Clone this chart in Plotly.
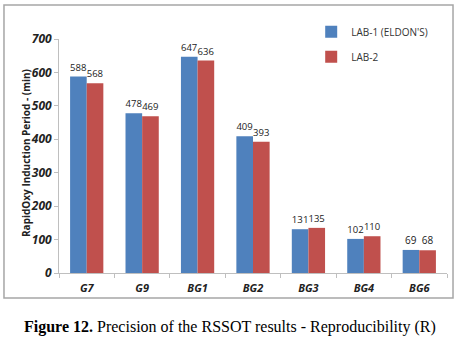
import plotly.graph_objects as go

categories = ["G7", "G9", "BG1", "BG2", "BG3", "BG4", "BG6"]
lab1 = [588, 478, 647, 409, 131, 102, 69]
lab2 = [568, 469, 636, 393, 135, 110, 68]
series_names = ["LAB-1 (ELDON'S)", "LAB-2"]
yticks = [0, 100, 200, 300, 400, 500, 600, 700]

fig = go.Figure()
for name, vals, col, grp in [(series_names[0], lab1, "#4F81BD", "a"),
                             (series_names[1], lab2, "#C0504D", "b")]:
    fig.add_trace(go.Bar(
        x=categories, y=vals, name=name, marker_color=col,
        marker_line_width=0, legendgroup=grp,
        text=[str(v) for v in vals], textposition="outside",
        textfont=dict(family="Open Sans", size=10, color="#222222"),
        cliponaxis=False,
    ))

fig.update_layout(
    width=460, height=346,
    margin=dict(l=59, r=13, t=39, b=73),
    paper_bgcolor="white", plot_bgcolor="white",
    barmode="group", bargap=0.4, bargroupgap=0,
    font=dict(family="Open Sans", color="#222222"),
    legend=dict(x=0.65, y=1.093, xanchor="left", yanchor="top",
                font=dict(family="Open Sans", size=10, color="#333333"),
                traceorder="grouped", tracegroupgap=6,
                bgcolor="rgba(0,0,0,0)"),
    xaxis=dict(showline=True, linecolor="#BFBFBF", linewidth=1,
               ticks="outside", ticklen=4, tickcolor="#BFBFBF", tickson="boundaries",
               showgrid=False, ticklabelstandoff=5,
               tickfont=dict(family="Open Sans", size=11, color="#222222", weight="bold", style="italic")),
    yaxis=dict(range=[0, 700], tickvals=yticks, showline=True, linecolor="#BFBFBF",
               linewidth=1, ticks="outside", ticklen=4, tickcolor="#BFBFBF",
               showgrid=False, zeroline=False,
               tickfont=dict(family="Open Sans", size=12, color="#222222", weight="bold", style="italic")),
    shapes=[dict(type="rect", xref="paper", yref="paper",
                 x0=-0.1418, x1=1.0155, y0=-0.107, y1=1.145,
                 line=dict(color="#A6A6A6", width=1.5), fillcolor="rgba(0,0,0,0)", layer="below")],
    annotations=[
        dict(xref="paper", yref="paper", x=-0.085, y=0.513, textangle=-90,
             xanchor="center", yanchor="middle", showarrow=False,
             text="<b>RapidOxy Induction Period - (min)</b>",
             font=dict(family="Open Sans", size=10, color="#222222")),
        dict(xref="paper", yref="paper", x=0.4407, y=-0.231,
             xanchor="center", yanchor="middle", showarrow=False,
             text="<b>Figure 12.</b> Precision of the RSSOT results - Reproducibility (R)",
             font=dict(family="Liberation Serif", size=16, color="black"))],
)

fig.write_html("out.html")
